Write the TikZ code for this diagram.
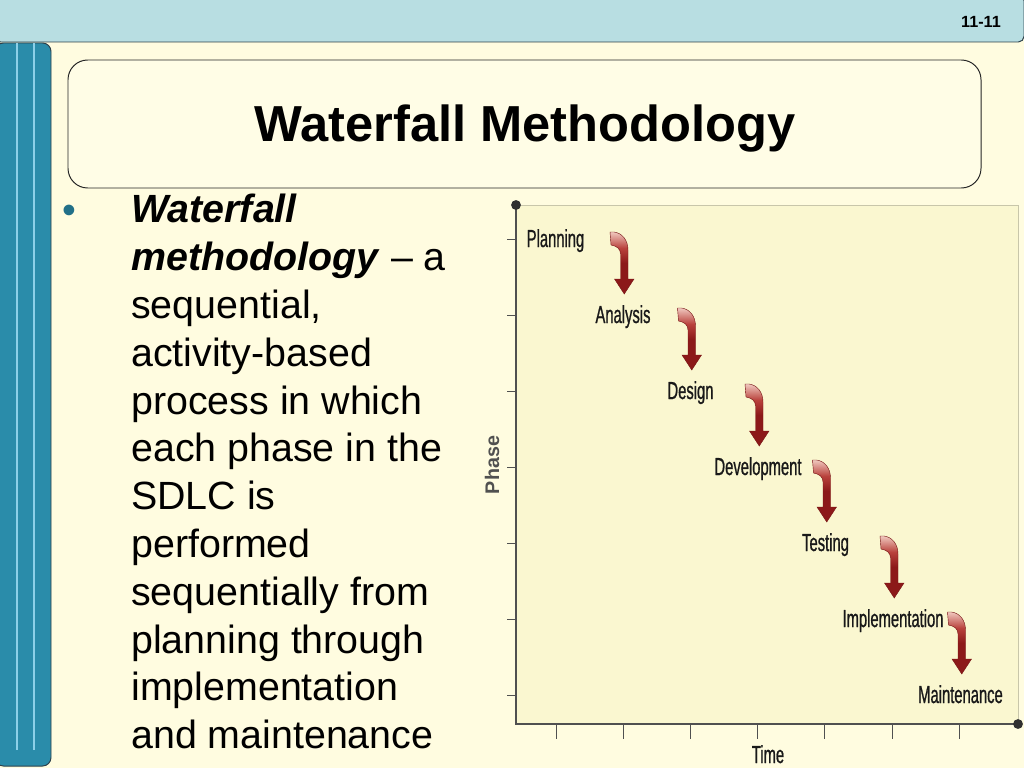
\documentclass[tikz,border=0pt]{standalone}
\usepackage{fontspec}
\setmainfont{Liberation Sans}
\newfontfamily\chartfont[FakeStretch=0.6,FakeBold=0.8]{Liberation Sans}
\usetikzlibrary{calc}
\definecolor{slidebg}{RGB}{255,252,224}
\definecolor{topbar}{RGB}{184,222,226}
\definecolor{sidebar}{RGB}{42,140,170}
\definecolor{sideline}{RGB}{140,208,232}
\definecolor{framedark}{RGB}{45,65,75}
\definecolor{plotbg}{RGB}{250,247,208}
\definecolor{plotedge}{RGB}{200,198,170}
\definecolor{axisgray}{RGB}{80,80,80}
\definecolor{arrowdark}{RGB}{140,25,25}
\definecolor{arrowmid}{RGB}{185,65,60}
\definecolor{arrowpale}{RGB}{240,200,190}
\pgfdeclareverticalshading{fallshade}{100bp}{color(0bp)=(arrowdark); color(50bp)=(arrowdark); color(62bp)=(arrowmid); color(75bp)=(arrowpale); color(100bp)=(arrowpale)}

\begin{document}
\begin{tikzpicture}[x=0.025cm,y=-0.025cm,
    phaselabel/.style={font=\chartfont\fontsize{17.5}{20}\selectfont,anchor=base,inner sep=0pt,text=black!90},
    axisline/.style={draw=axisgray,line width=1pt},
    tickline/.style={draw=axisgray,line width=0.6pt},
    fallarrow/.pic={
      \shade[shading=fallshade,draw=arrowdark!85!black,line width=0.3pt]
        (0,0) -- (4,0) .. controls (12,1) and (18,8) .. (18,18) -- (18,47)
        -- (24,47) -- (14.25,62) -- (4.5,47) -- (10.5,47) -- (10.5,22)
        .. controls (10.5,17) and (7,14) .. (1,13) -- cycle;
    }]
    \useasboundingbox (0,0) rectangle (1024,768);
    \fill[slidebg] (0,0) rectangle (1024,768);

    % Bande du haut et bande de gauche
    \draw[fill=topbar,draw=framedark,line width=0.7pt,rounded corners=4pt] (-5,-5) rectangle (1024,42);
    \node[font=\fontsize{11.5}{12}\bfseries\selectfont,anchor=base] (pagenum) at (981,28) {11-11};
    \draw[fill=sidebar,draw=framedark,line width=0.7pt,rounded corners=6pt] (-5,43) rectangle (51,766);
    \draw[sideline,line width=1pt] (17,43) -- (17,750);
    \draw[sideline,line width=1pt] (34,43) -- (34,750);

    % Titre
    \draw[fill=slidebg!80!white,draw=black!85,line width=0.7pt,rounded corners=14pt] (68,60) rectangle (981,188);
    \node[font=\fontsize{36}{40}\bfseries\selectfont,anchor=base] (title) at (525,142) {Waterfall Methodology};

    % Texte
    \node[font=\fontsize{28}{34}\selectfont,anchor=base,text=sidebar!80!black,inner sep=0pt] (bullet) at (69,223) {•};
    \node[font=\fontsize{28}{34}\selectfont,anchor=north west,inner sep=0pt,align=left] (desc) at (131,194)
      {\textbf{\textit{Waterfall}}\\ \textbf{\textit{methodology}} – a\\ sequential,\\ activity-based\\ process in which\\
       each phase in the\\ SDLC is\\ performed\\ sequentially from\\ planning through\\ implementation\\ and maintenance};

    % Graphique
    \fill[plotbg] (516,205) rectangle (1018,724);
    \draw[plotedge,line width=0.6pt] (516,205) -- (1018,205) -- (1018,724);
    \foreach \k in {0,...,6} {
      \draw[tickline] (507,239+76*\k) -- (516,239+76*\k);
      \draw[tickline] (556+67.2*\k,724) -- (556+67.2*\k,739);
    }
    \draw[axisline] (516,205) -- (516,724) -- (1018,724);
    \fill[axisgray!60!black] (516,205) circle (3.5pt);
    \fill[axisgray!60!black] (1018,724) circle (3.5pt);

    \node[font=\fontsize{14}{16}\bfseries\selectfont,text=axisgray,rotate=90] (phase) at (492,465) {Phase};
    \node[phaselabel] (time) at (768,763) {Time};

    % Phases
    \foreach \name [count=\i from 0] in {Planning,Analysis,Design,Development,Testing,Implementation,Maintenance} {
      \node[phaselabel] (ph\i) at (555.5+67.5*\i,247+76*\i) {\name};
    }
    \foreach \i in {0,...,5} {
      \pic at ($(ph\i.base)+(54.5,-15)$) {fallarrow};
    }
\end{tikzpicture}
\end{document}
